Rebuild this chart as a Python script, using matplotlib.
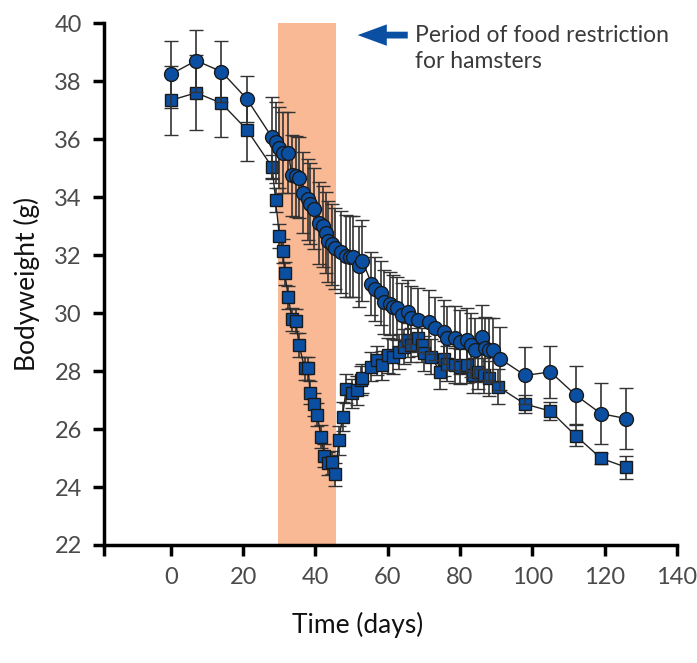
import matplotlib.pyplot as plt
import numpy as np

# hamster bodyweight, two groups (circles / squares)
days_circ = [0, 7, 14, 21, 28, 29, 30, 31, 32.5, 33.5, 34.5, 35.5, 36.5, 38, 38.5, 39.5,
             41, 42, 43, 43.5, 44.5, 45.5, 47, 48.5, 49.5, 50.5, 52, 53, 55.5, 56.5, 58, 59,
             60.5, 61.5, 62.5, 64, 65.5, 66.5, 68.5, 71.5, 73, 75.5, 76.5, 78.5, 80, 82, 83,
             84, 86, 87, 88, 89, 91, 98, 105, 112, 119, 126]
weight_circ = [38.24, 38.71, 38.33, 37.39, 36.06, 35.89, 35.70, 35.53, 35.53, 34.75, 34.72,
               34.67, 34.15, 33.92, 33.78, 33.6, 33.11, 33.0, 32.77, 32.48, 32.37, 32.23,
               32.11, 31.97, 31.94, 31.94, 31.62, 31.80, 31.02, 30.82, 30.68, 30.39, 30.33,
               30.22, 30.16, 29.93, 30.05, 29.82, 29.76, 29.70, 29.47, 29.36, 29.13, 29.13,
               29.0, 29.07, 28.9, 28.72, 29.18, 28.78, 28.72, 28.72, 28.43, 27.85, 27.97,
               27.17, 26.53, 26.36]
err_circ = [1.15, 1.07, 1.06, 0.8] + [1.4] * 24 + [1.1] * 25 + [0.97, 0.9, 1.0, 1.06, 1.05]

days_sq = [0, 7, 14, 21, 28, 29, 30, 31, 31.5, 32.5, 33.5, 34.5, 35.5, 37, 38, 38.5, 39.5,
           40.5, 41.5, 42.5, 43.5, 44.5, 45.5, 46.5, 47.5, 48.5, 50, 51.5, 52.5, 53, 55.5,
           57, 58.5, 60, 61.5, 63, 64.5, 65.5, 66.5, 68.5, 69.5, 70, 72, 74.5, 75.5, 76.5,
           78.5, 80, 82, 83.5, 85, 86.5, 88, 90.5, 98, 105, 112, 119, 126]
weight_sq = [37.34, 37.6, 37.24, 36.33, 35.04, 33.9, 32.66, 32.14, 31.37, 30.55, 29.78, 29.73,
             28.9, 28.09, 28.09, 27.26, 26.86, 26.5, 25.74, 25.08, 24.82, 24.85, 24.44, 25.62,
             26.42, 27.39, 27.23, 27.34, 27.69, 27.75, 28.15, 28.38, 28.2, 28.55, 28.49,
             28.67, 28.84, 29.07, 28.9, 29.13, 28.9, 28.61, 28.49, 27.98, 28.43, 28.26, 28.2,
             28.15, 28.2, 27.86, 27.98, 27.86, 27.75, 27.46, 26.86, 26.62, 25.77, 24.99, 24.68]
err_sq = [1.2, 1.3, 1.17, 1.1] + [0.4] * 19 + [0.5] * 10 + [0.6] * 21 + [0.3, 0.3, 0.37, 0.2, 0.4]

restriction = (29.6, 45.7)
xticks = [0, 20, 40, 60, 80, 100, 120, 140]
yticks = [22, 24, 26, 28, 30, 32, 34, 36, 38, 40]

BLUE = '#0b4fa3'
FONT = 'Lato'

fig = plt.figure(figsize=(6.97, 6.63), dpi=100)
ax = fig.add_axes([0.1492, 0.178, 0.822, 0.787])

ax.axvspan(*restriction, color='#f9b995', lw=0, zorder=0)

ax.errorbar(days_sq, weight_sq, yerr=err_sq, fmt='-s', color='#222222', lw=1,
            ecolor='#333333', elinewidth=1.2, capsize=5, capthick=1.2,
            mfc=BLUE, mec='#1a1a1a', mew=1, ms=9, zorder=2)
ax.errorbar(days_circ, weight_circ, yerr=err_circ, fmt='-o', color='#222222', lw=1,
            ecolor='#333333', elinewidth=1.2, capsize=5, capthick=1.2,
            mfc=BLUE, mec='#1a1a1a', mew=1, ms=10, zorder=3)

ax.set_xlim(-18.5, 140)
ax.set_ylim(22, 40)
ax.set_xticks([-18.5] + xticks)
ax.set_xticklabels([''] + [str(t) for t in xticks])
ax.set_yticks(yticks)
ax.set_yticklabels([str(t) for t in yticks])

for s in ['top', 'right']:
    ax.spines[s].set_visible(False)
for s in ['left', 'bottom']:
    ax.spines[s].set_linewidth(2.5)
    ax.spines[s].set_capstyle('projecting')
ax.tick_params(length=8, width=2.5, colors='black', labelcolor='#4a4a4a',
               labelsize=17, pad=8)
for lab in ax.get_xticklabels() + ax.get_yticklabels():
    lab.set_fontfamily(FONT)

ax.set_ylabel('Bodyweight (g)', fontsize=19, fontfamily=FONT, color='#111111',
              labelpad=10)
fig.text(358 / 697, 1 - 625 / 663, 'Time (days)', fontsize=19, fontfamily=FONT,
         color='#111111', ha='center', va='center')

# arrow + note about the restriction window
ax.annotate('', xy=(50.9, 39.59), xytext=(66.3, 39.59),
            arrowprops=dict(arrowstyle='simple,head_length=1.5,head_width=1.1,tail_width=0.35',
                            color=BLUE, lw=0, mutation_scale=14))
ax.text(67.5, 39.93, 'Period of food restriction\nfor hamsters', fontsize=16.5,
        fontfamily=FONT, color='#3a3a3a', va='top', ha='left', linespacing=1.3)

fig.savefig('out.png', dpi=100)
